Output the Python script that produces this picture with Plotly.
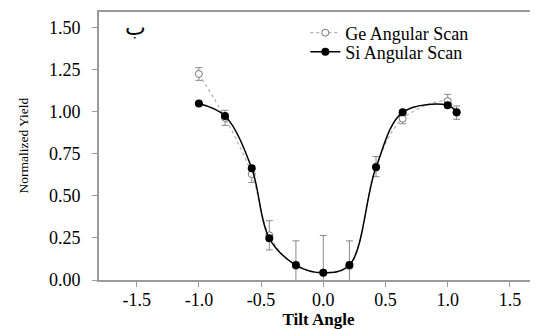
import plotly.graph_objects as go

# Tilt angles
tilt = [-1.0, -0.79, -0.575, -0.434, -0.22, 0.0, 0.21, 0.424, 0.638, 1.0, 1.072]
# Si angular scan (filled)
si_yield = [1.05, 0.976, 0.665, 0.248, 0.089, 0.043, 0.089, 0.671, 0.998, 1.04, 0.998]
# Ge angular scan (open) with error bars
ge_yield = [1.226, 0.965, 0.63, 0.266, 0.083, 0.045, 0.083, 0.675, 0.96, 1.065, 0.996]
ge_err = [0.038, 0.045, 0.05, 0.087, 0.15, 0.22, 0.15, 0.06, 0.03, 0.04, 0.04]

x_tick_vals = [-1.5, -1.0, -0.5, 0.0, 0.5, 1.0, 1.5]
x_tick_text = ["-1.5", "-1.0", "-0.5", "0.0", "0.5", "1.0", "1.5"]
y_tick_vals = [0.0, 0.25, 0.5, 0.75, 1.0, 1.25, 1.5]
y_tick_text = ["0.00", "0.25", "0.50", "0.75", "1.00", "1.25", "1.50"]

SERIF = "Liberation Serif, Times New Roman, serif"

# page body has an 8px default margin, so the figure is 8px smaller than the window
PW, PH = 439.0, 268.0  # plot area size in px

fig = go.Figure()
fig.add_trace(go.Scatter(
    x=tilt, y=ge_yield, name="Ge Angular Scan", mode="lines+markers", legend="legend",
    line=dict(color="#b0b0b0", width=1.2, dash="dot", shape="spline", smoothing=1.0),
    marker=dict(symbol="circle", size=7, color="white", line=dict(color="#777777", width=1)),
    error_y=dict(type="data", array=ge_err, visible=True, color="#8a8a8a", thickness=1, width=3.5),
))
fig.add_trace(go.Scatter(
    x=tilt, y=si_yield, name="Si Angular Scan", mode="lines+markers", legend="legend2",
    line=dict(color="black", width=1.5, shape="spline", smoothing=1.0),
    marker=dict(symbol="circle", size=8, color="black"),
))

# Arabic panel label
fig.add_annotation(x=36.5 / PW, y=(268 - 15.5) / PH, xref="paper", yref="paper", text="ب",
                   xanchor="center", yanchor="middle",
                   showarrow=False, font=dict(family="DejaVu Sans", size=22, color="black"))
# Y axis title
fig.add_annotation(x=-76.5 / PW, y=(268 - 134) / PH, xref="paper", yref="paper",
                   text="Normalized Yield", textangle=-90, xanchor="center", yanchor="middle",
                   showarrow=False, font=dict(family=SERIF, size=13.5, color="black"))

leg_common = dict(xanchor="left", yanchor="middle", bgcolor="rgba(0,0,0,0)",
                  font=dict(family=SERIF, size=18), itemwidth=30)

fig.update_layout(
    width=530, height=321,
    margin=dict(l=91, r=0, t=4, b=49),
    paper_bgcolor="white", plot_bgcolor="white",
    font=dict(family=SERIF, color="black"),
    showlegend=True,
    legend=dict(x=0.47, y=(268 - 21) / PH, **leg_common),
    legend2=dict(x=0.47, y=(268 - 40) / PH, **leg_common),
    xaxis=dict(range=[-1.803, 1.726], tickvals=x_tick_vals, ticktext=x_tick_text,
               showgrid=False, zeroline=False, showline=True, linecolor="#9a9a9a", linewidth=2,
               mirror=True, ticks="outside", ticklen=5, tickcolor="#9a9a9a",
               ticklabelstandoff=-3,
               tickfont=dict(family=SERIF, size=18),
               title=dict(text="<b>Tilt Angle</b>", font=dict(family=SERIF, size=17), standoff=0)),
    yaxis=dict(range=[0, 1.595], tickvals=y_tick_vals, ticktext=y_tick_text,
               showgrid=False, zeroline=False, showline=True, linecolor="#9a9a9a", linewidth=2,
               ticks="outside", ticklen=5, tickcolor="#9a9a9a", ticklabelstandoff=8,
               tickfont=dict(family=SERIF, size=18)),
)

fig.write_html("out.html")
